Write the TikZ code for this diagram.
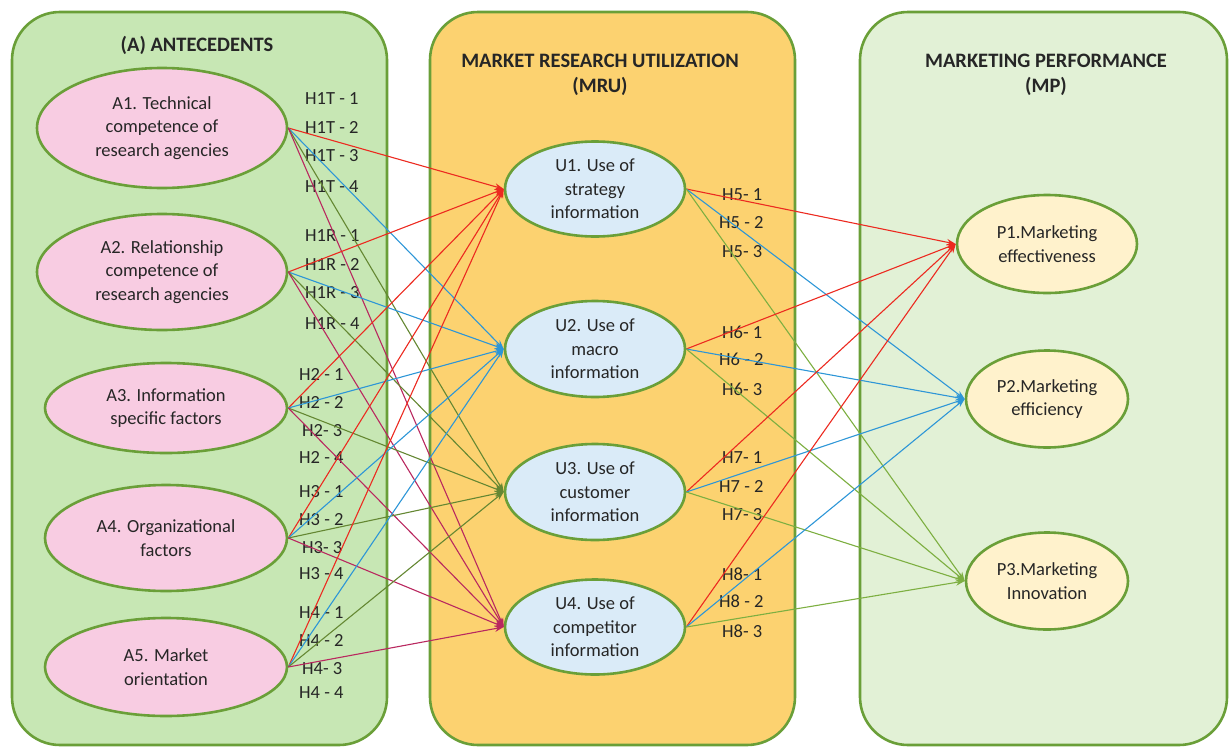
\documentclass[tikz,border=0pt]{standalone}
\usepackage{fontspec}
\setmainfont{Carlito}
\usetikzlibrary{arrows.meta,shapes.geometric}
\definecolor{frame}{RGB}{106,159,56}
\definecolor{panelA}{RGB}{199,231,180}
\definecolor{panelU}{RGB}{252,210,112}
\definecolor{panelP}{RGB}{226,241,214}
\definecolor{ovalA}{RGB}{248,204,226}
\definecolor{ovalU}{RGB}{218,235,248}
\definecolor{ovalP}{RGB}{255,242,204}
\definecolor{txt}{RGB}{38,38,38}
\definecolor{toOne}{RGB}{236,42,32}
\definecolor{toTwo}{RGB}{45,150,215}
\definecolor{toThree}{RGB}{100,135,50}
\definecolor{toFour}{RGB}{185,40,95}
\definecolor{toPthree}{RGB}{125,175,65}
\begin{document}
\begin{tikzpicture}[x=1pt,y=-1pt,>={Stealth[length=9pt,width=6.5pt]},
  panel/.style={draw=frame,line width=2.6pt,rounded corners=48pt},
  oval/.style={ellipse,draw=frame,line width=2.6pt,inner sep=0pt,align=center,text=txt,font=\fontsize{18.5}{23.5}\selectfont},
  hyp/.style={anchor=west,inner sep=0pt,text=txt,font=\fontsize{18.5}{22}\selectfont},
  head/.style={align=center,text=txt,font=\bfseries\fontsize{20.5}{25}\selectfont},
  link/.style={->,line width=1.1pt}]
\useasboundingbox (0,0) rectangle (1229,747);
% panels
\draw[panel,fill=panelA](12,12)rectangle(387,745);
\draw[panel,fill=panelU](430,12)rectangle(795,745);
\draw[panel,fill=panelP](860,12)rectangle(1227,745);
\node[head] (tA) at (197,45) {(A) ANTECEDENTS};
\node[head] (tU) at (600,75) {MARKET RESEARCH UTILIZATION\\(MRU)};
\node[head] (tP) at (1046,75) {MARKETING PERFORMANCE\\(MP)};
% antecedents
\node[oval,fill=ovalA,minimum width=250pt,minimum height=120pt] (A1) at (162,128) {A1. Technical\\competence of\\research agencies};
\node[oval,fill=ovalA,minimum width=250pt,minimum height=116pt] (A2) at (162,272) {A2. Relationship\\competence of\\research agencies};
\node[oval,fill=ovalA,minimum width=242pt,minimum height=90pt] (A3) at (166,408) {A3. Information\\specific factors};
\node[oval,fill=ovalA,minimum width=242pt,minimum height=106pt] (A4) at (166,538) {A4. Organizational\\factors};
\node[oval,fill=ovalA,minimum width=242pt,minimum height=98pt] (A5) at (166,667) {A5. Market\\orientation};
% utilization
\node[oval,fill=ovalU,minimum width=180pt,minimum height=95pt] (U1) at (595,189) {U1. Use of\\strategy\\information};
\node[oval,fill=ovalU,minimum width=180pt,minimum height=96pt] (U2) at (595,349) {U2. Use of\\macro\\information};
\node[oval,fill=ovalU,minimum width=180pt,minimum height=96pt] (U3) at (595,492) {U3. Use of\\customer\\information};
\node[oval,fill=ovalU,minimum width=180pt,minimum height=95pt] (U4) at (595,627) {U4. Use of\\competitor\\information};
% performance
\node[oval,fill=ovalP,minimum width=180pt,minimum height=98pt] (P1) at (1047,244) {P1.Marketing\\effectiveness};
\node[oval,fill=ovalP,minimum width=162pt,minimum height=97pt] (P2) at (1047,399) {P2.Marketing\\efficiency};
\node[oval,fill=ovalP,minimum width=162pt,minimum height=97pt] (P3) at (1047,581) {P3.Marketing\\Innovation};
% hypothesis labels
\foreach \t/\x/\y [count=\i] in {H1T - 1/305/99,H1T - 2/305/127,H1T - 3/305/156,H1T - 4/305/187,
  H1R - 1/305/236,H1R - 2/305/264,H1R - 3/305/293,H1R - 4/305/324,
  H2 - 1/299/374,H2 - 2/299/402,H2- 3/302/431,H2 - 4/299/457,
  H3 - 1/299/492,H3 - 2/299/520,H3- 3/302/548,H3 - 4/299/574,
  H4 - 1/299/613,H4 - 2/299/640,H4- 3/302/669,H4 - 4/299/693,
  H5- 1/722/195,H5 - 2/719/223,H5- 3/722/252,
  H6- 1/722/332,H6 - 2/719/359,H6- 3/722/389,
  H7- 1/722/458,H7 - 2/719/486,H7- 3/722/515,
  H8- 1/722/574,H8 - 2/719/601,H8- 3/722/631}
  \node[hyp] (h\i) at (\x,\y) {\t};
% links
\foreach \i in {1,...,5}{
  \draw[link,toOne](A\i.east)--(U1.west);
  \draw[link,toTwo](A\i.east)--(U2.west);
  \draw[link,toThree](A\i.east)--(U3.west);
  \draw[link,toFour](A\i.east)--(U4.west);
}
\foreach \i in {1,...,4}{
  \draw[link,toOne](U\i.east)--(P1.west);
  \draw[link,toTwo](U\i.east)--(P2.west);
  \draw[link,toPthree](U\i.east)--(P3.west);
}
\end{tikzpicture}
\end{document}
